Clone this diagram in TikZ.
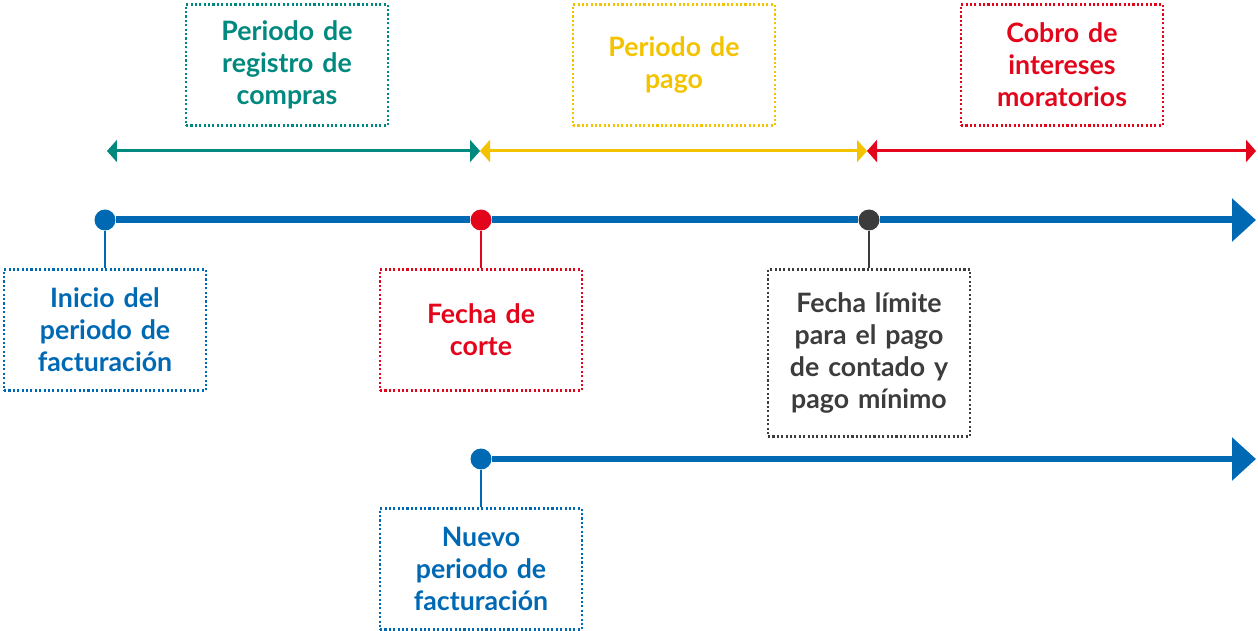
\documentclass[tikz,border=0pt]{standalone}
\usepackage{fontspec}
\setmainfont{Lato}
\usetikzlibrary{arrows.meta}
\definecolor{azul}{HTML}{0069B4}
\definecolor{verde}{HTML}{00897E}
\definecolor{amarillo}{HTML}{F3C300}
\definecolor{rojo}{HTML}{E3051B}
\definecolor{gris}{HTML}{3C3C3C}
\tikzset{
  caja/.style={draw=#1, text=#1, line width=1.2pt, dash pattern=on 1.2pt off 1.3pt,
    minimum width=4.04cm, minimum height=2.42cm, text width=3.8cm, align=center,
    font=\fontsize{15.2}{18.2}\selectfont\bfseries},
  punto/.style={circle, fill=#1, inner sep=0pt, minimum size=0.42cm},
  linea/.style={draw=azul, line width=0.14cm},
  tallo/.style={draw=#1, line width=0.05cm},
  periodo/.style={draw=#1, line width=0.06cm, {Triangle[length=0.2cm,width=0.44cm]}-{Triangle[length=0.2cm,width=0.44cm]}},
}
\begin{document}
\begin{tikzpicture}[x=0.02cm, y=-0.02cm]
    \useasboundingbox (0,0) rectangle (1258,631);
    % cajas de arriba
    \node[caja=verde] (registro) at (287,65) {Periodo de\\registro de\\compras};
    \node[caja=amarillo] (pago) at (674,65) {Periodo de\\pago};
    \node[caja=rojo] (cobro) at (1062,65) {Cobro de\\intereses\\moratorios};
    % periodos
    \coordinate (p1) at (107,151);
    \coordinate (p2) at (480,151);
    \coordinate (p3) at (867,151);
    \coordinate (p4) at (1256,151);
    \draw[periodo=verde] (p1) -- (p2);
    \draw[periodo=amarillo] (p2) -- (p3);
    \draw[periodo=rojo] (p3) -- (p4);
    % linea principal
    \node[punto=azul] (inicio) at (105,220) {};
    \node[punto=rojo] (corte) at (481,220) {};
    \node[punto=gris] (limite) at (869,220) {};
    \coordinate (fin) at (1256,220);
    \draw[linea] (inicio) -- (corte);
    \draw[linea] (corte) -- (limite);
    \draw[linea, -{Triangle[length=0.48cm,width=0.84cm]}] (limite) -- (fin);
    \node[caja=azul] (cinicio) at (105,330) {Inicio del\\periodo de\\facturación};
    \node[caja=rojo] (ccorte) at (481,330) {Fecha de\\corte};
    \node[caja=gris, minimum height=3.34cm] (climite) at (869,353) {Fecha límite\\para el pago\\de contado y\\pago mínimo};
    \draw[tallo=azul] (inicio) -- (cinicio);
    \draw[tallo=rojo] (corte) -- (ccorte);
    \draw[tallo=gris] (limite) -- (climite);
    % nuevo periodo
    \node[punto=azul] (nuevo) at (481,459) {};
    \coordinate (fin2) at (1256,459);
    \draw[linea, -{Triangle[length=0.48cm,width=0.84cm]}] (nuevo) -- (fin2);
    \node[caja=azul] (cnuevo) at (481,569) {Nuevo\\periodo de\\facturación};
    \draw[tallo=azul] (nuevo) -- (cnuevo);
\end{tikzpicture}
\end{document}
